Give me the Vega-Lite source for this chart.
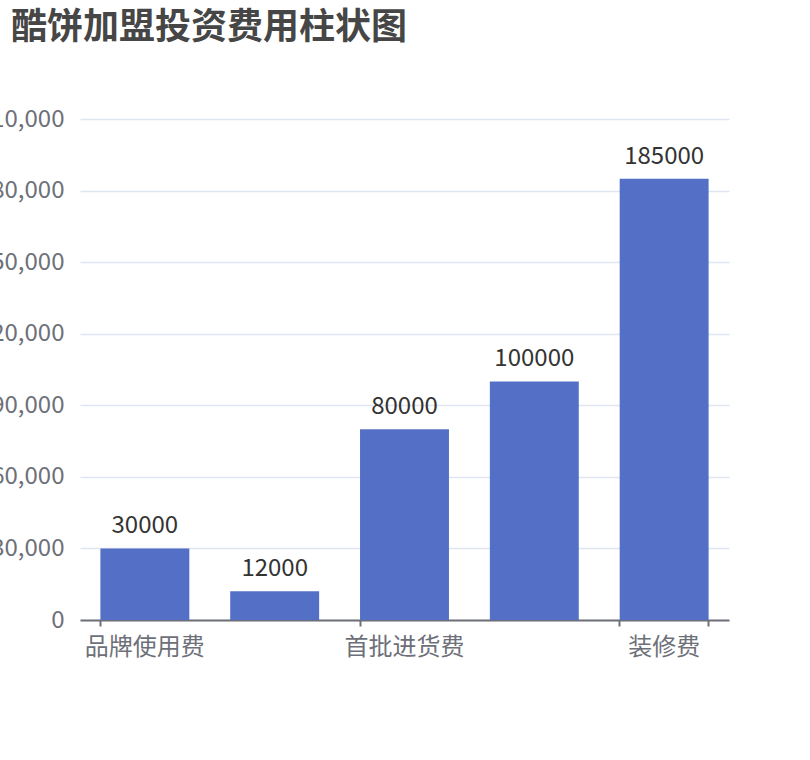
{
  "$schema": "https://vega.github.io/schema/vega-lite/v6.json",
  "width": 649,
  "height": 501,
  "autosize": {"type": "none"},
  "padding": {"left": 80, "top": 119, "right": 81, "bottom": 140},
  "background": "#ffffff",
  "title": {
    "text": "酷饼加盟投资费用柱状图",
    "anchor": "start",
    "frame": "group",
    "font": "Noto Sans CJK SC",
    "fontSize": 36,
    "fontWeight": "bold",
    "color": "#464646",
    "dx": -69,
    "offset": 60
  },
  "config": {
    "view": {"stroke": null},
    "font": "Noto Sans CJK SC"
  },
  "data": {
    "values": [
      {"item": "品牌使用费", "cost": 30000},
      {"item": "保证金", "cost": 12000},
      {"item": "首批进货费", "cost": 80000},
      {"item": "设备费", "cost": 100000},
      {"item": "装修费", "cost": 185000}
    ]
  },
  "encoding": {
    "x": {
      "field": "item",
      "type": "nominal",
      "sort": null,
      "title": null,
      "scale": {"paddingInner": 0.315, "paddingOuter": 0.157}
    },
    "y": {
      "field": "cost",
      "type": "quantitative",
      "title": null,
      "scale": {"domain": [0, 210000], "nice": false},
      "axis": {
        "values": [0, 30000, 60000, 90000, 120000, 150000, 180000, 210000],
        "format": ",.0f",
        "domain": false,
        "ticks": false,
        "labelFontSize": 24,
        "labelColor": "#6e7079",
        "labelPadding": 16,
        "gridColor": "#e0e6f1",
        "gridWidth": 1.5
      }
    }
  },
  "layer": [
    {
      "mark": {"type": "bar", "color": "#5470c6"},
      "encoding": {
        "x": {
          "field": "item",
          "type": "nominal",
          "sort": null,
          "axis": {
            "values": ["品牌使用费", "首批进货费", "装修费"],
            "orient": "bottom",
            "bandPosition": 0,
            "labelAngle": 0,
            "labelFontSize": 24,
            "labelColor": "#6e7079",
            "labelPadding": 9,
            "tickSize": 6,
            "tickWidth": 2,
            "tickColor": "#6e7079",
            "domainColor": "#6e7079",
            "domainWidth": 2,
            "grid": false
          }
        }
      }
    },
    {
      "mark": {"type": "text", "baseline": "alphabetic", "dy": -15, "fontSize": 24, "color": "#333333"},
      "encoding": {
        "x": {
          "field": "item",
          "type": "nominal",
          "sort": null,
          "axis": {
            "values": ["装修费"],
            "orient": "bottom",
            "bandPosition": 1,
            "labels": false,
            "domain": false,
            "grid": false,
            "tickSize": 6,
            "tickWidth": 2,
            "tickColor": "#6e7079"
          }
        },
        "text": {"field": "cost", "type": "quantitative"}
      }
    }
  ],
  "resolve": {"axis": {"x": "independent"}}
}
